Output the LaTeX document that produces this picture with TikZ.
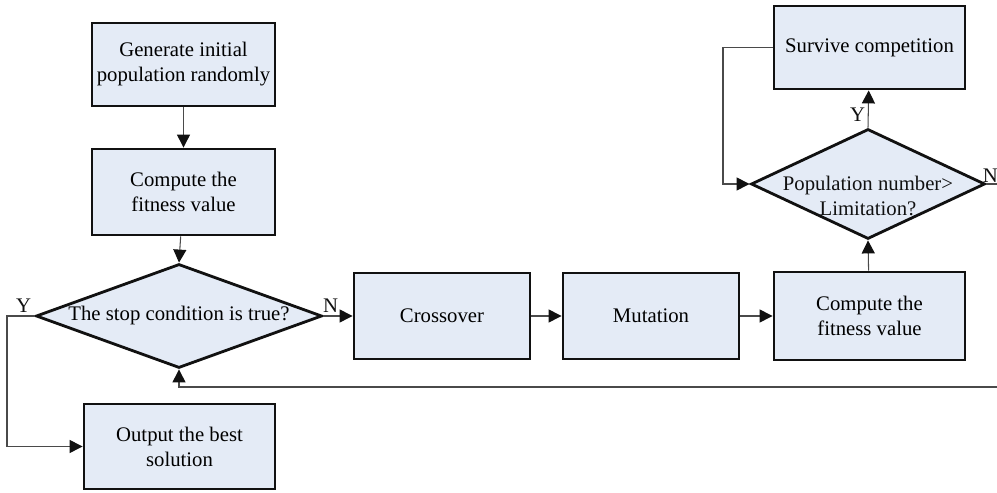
\documentclass[tikz,border=0pt]{standalone}
\usepackage{fontspec}
\setmainfont{Liberation Serif}
\usetikzlibrary{arrows.meta,shapes.geometric}
\definecolor{boxfill}{HTML}{E4EBF6}
\definecolor{linegray}{HTML}{4A4A4A}
\definecolor{textdark}{HTML}{111111}

\begin{document}
\begin{tikzpicture}[font=\fontsize{11.8}{14.2}\selectfont,
    >={Triangle[length=2.6mm, width=2.6mm, color=textdark]},
    box/.style={draw=textdark, fill=boxfill, line width=1.6pt, align=center,
        inner sep=0pt},
    decision/.style={diamond, draw=textdark, fill=boxfill, line width=1.6pt,
        align=center, inner sep=0pt},
    link/.style={draw=linegray, line width=0.6pt, ->},
    lbl/.style={text=textdark, inner sep=1.5pt}]

    % Page Size
    \useasboundingbox (0,0) rectangle (19.94,9.84);

    % Left Column
    \node[box, minimum width=3.66cm, minimum height=1.66cm] (gen) at (3.67,8.55)
        {Generate initial\\population randomly};
    \node[box, minimum width=3.66cm, minimum height=1.72cm] (fit1) at (3.67,6.00)
        {Compute the\\fitness value};
    \node[decision, minimum width=5.72cm, minimum height=2.08cm, shape aspect=2.75]
        (stop) at (3.58,3.52) {The stop condition is true?};
    \node[box, minimum width=3.82cm, minimum height=1.70cm] (out) at (3.59,0.91)
        {Output the best\\solution};

    % Middle Row
    \node[box, minimum width=3.52cm, minimum height=1.72cm] (cross) at (8.84,3.52) {Crossover};
    \node[box, minimum width=3.52cm, minimum height=1.72cm] (mut) at (13.02,3.52) {Mutation};
    \node[box, minimum width=3.82cm, minimum height=1.76cm] (fit2) at (17.39,3.52)
        {Compute the\\fitness value};

    % Right Column
    \node[decision, minimum width=4.68cm, minimum height=2.20cm, shape aspect=2.13]
        (pop) at (17.36,6.16) {};
    \node[lbl, align=center] (poptext) at ([yshift=-0.24cm]pop.center)
        {Population number>\\Limitation?};
    \node[box, minimum width=3.82cm, minimum height=1.66cm] (surv) at (17.39,8.89)
        {Survive competition};

    % Bend Points
    \coordinate (yleft) at (0.14,3.52);
    \coordinate (loop) at (14.46,8.89);
    \coordinate (back) at (20.30,2.10);

    % Connectors
    \draw[link] (gen) -- (fit1);
    \draw[link] (fit1) -- (stop.north);
    \draw[link] (stop.east) -- node[lbl, near start, above] {N} (cross);
    \draw[link] (cross) -- (mut);
    \draw[link] (mut) -- (fit2);
    \draw[link] (fit2) -- (pop.south);
    \draw[link] (pop.north) -- node[lbl, pos=0.35, left] {Y} (surv);
    \draw[link] (stop.west) -- node[lbl, pos=0.4, above] {Y} (yleft) |- (out.west);
    \draw[link] (surv.west) -- (loop) |- (pop.west);
    \draw[link] (pop.east) node[lbl, anchor=south west, xshift=-0.1cm, inner sep=0.5pt] {N}
        -- (pop.east -| back) -- (back) -| (stop.south);

\end{tikzpicture}
\end{document}
